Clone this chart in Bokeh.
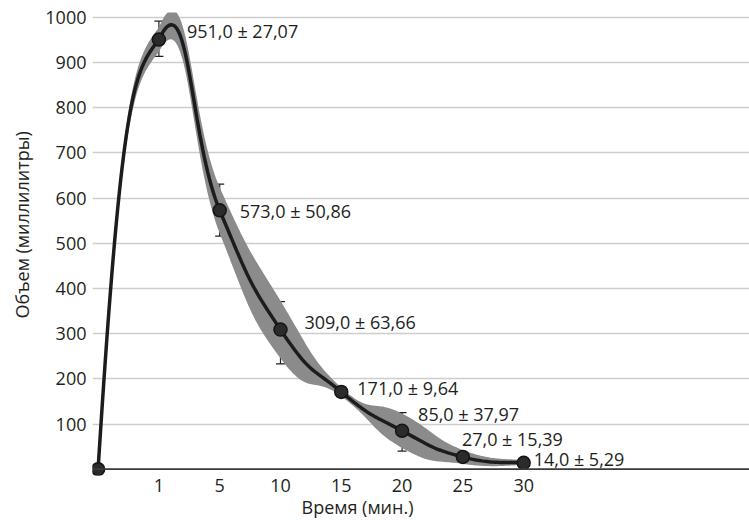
import numpy as np
from bokeh.plotting import figure
from bokeh.models import ColumnDataSource, FixedTicker, Span, Whisker, TeeHead, Range1d, Title
from bokeh.core.properties import value
from bokeh.embed import file_html
from bokeh.resources import INLINE

# ---- data ----
times = [0, 1, 5, 10, 15, 20, 25, 30]                      # minutes (tick labels)
volume = [0.0, 951.0, 573.0, 309.0, 171.0, 85.0, 27.0, 14.0]  # mean volume, ml
sd = [0.0, 27.07, 50.86, 63.66, 9.64, 37.97, 15.39, 5.29]     # +/- shown in labels
bar_low = [0, 914, 516, 233, 160, 40, 18, 9]                 # error bar ends (as drawn)
bar_high = [0, 992, 631, 371, 182, 125, 36, 19]
y_ticks = [100, 200, 300, 400, 500, 600, 700, 800, 900, 1000]
x_title = "Время (мин.)"
y_title = "Объем (миллилитры)"

idx = list(range(len(times)))   # categories are evenly spaced
INK = "#231f20"
FONT = "Open Sans"


def smooth(xs, ys, tension=0.25, first=(0.40, 0.90, 0.60, 0.925), n=40):
    """Smoothed line through the points (cubic Bezier segments)."""
    xs = np.asarray(xs, float)
    ys = np.asarray(ys, float)
    m = len(xs)
    ox, oy = [], []
    for i in range(m - 1):
        p0 = np.array([xs[i], ys[i]])
        p1 = np.array([xs[i + 1], ys[i + 1]])
        prev = np.array([xs[i - 1], ys[i - 1]]) if i > 0 else p0
        nxt = np.array([xs[i + 2], ys[i + 2]]) if i + 2 < m else p1
        if i == 0:
            d = p1 - p0
            c1 = p0 + d * np.array(first[:2])
            c2 = p0 + d * np.array(first[2:])
        else:
            c1 = p0 + (p1 - prev) * tension
            c2 = p1 - (nxt - p0) * tension
        t = np.linspace(0, 1, n)[:, None]
        if i > 0:
            t = t[1:]
        pts = ((1 - t) ** 3) * p0 + 3 * ((1 - t) ** 2) * t * c1 + 3 * (1 - t) * (t ** 2) * c2 + (t ** 3) * p1
        ox.extend(pts[:, 0])
        oy.extend(pts[:, 1])
    return np.array(ox), np.array(oy)


vol = np.array(volume)
err = np.array(sd)
cx, cy = smooth(idx, vol)
ux, uy = smooth(idx, vol + err)
lx, ly = smooth(idx, vol - err)

p = figure(width=749, height=520,
           x_range=Range1d(-0.092, 10.714), y_range=Range1d(-14, 1011),
           output_backend="svg", toolbar_location=None,
           min_border_left=92, min_border_right=0, min_border_top=12, min_border_bottom=43)
p.outline_line_color = None
p.background_fill_color = "white"
p.border_fill_color = "white"

# grid
p.xgrid.visible = False
p.ygrid.ticker = FixedTicker(ticks=y_ticks)
p.ygrid.grid_line_color = "#cdcdcd"
p.ygrid.grid_line_width = 1.5

# axes
p.xaxis.ticker = FixedTicker(ticks=idx[1:])
p.xaxis.major_label_overrides = {i: str(t) for i, t in zip(idx, times)}
p.yaxis.ticker = FixedTicker(ticks=y_ticks)
for ax in (p.xaxis, p.yaxis):
    ax.axis_line_color = None
    ax.major_tick_line_color = None
    ax.minor_tick_line_color = None
    ax.major_label_text_font = FONT
    ax.major_label_text_font_size = "18px"
    ax.major_label_text_color = INK
p.xaxis.major_label_standoff = -3
p.yaxis.major_label_standoff = 0

# axis titles
p.add_layout(Title(text=x_title, align="left", offset=209, vertical_align="top", standoff=0,
                   text_font=FONT, text_font_size="18px", text_font_style="normal",
                   text_color=INK), "below")
p.add_layout(Title(text=y_title, align="left", offset=157, vertical_align="middle", standoff=16,
                   text_font=FONT, text_font_size="18px", text_font_style="normal",
                   text_color=INK), "left")

# baseline (x axis line at zero)
p.add_layout(Span(location=0, dimension="width", line_color="#3a3a3a", line_width=1.8))

# band
bx = np.concatenate([ux, lx[::-1]])
by = np.concatenate([uy, ly[::-1]])
p.patch(bx, by, fill_color="#8b8b8b", line_color=None)

# smoothed line
p.line(cx, cy, line_color="#1c1c1c", line_width=3.5)

# error bars
eb = ColumnDataSource(dict(x=idx[1:], lo=bar_low[1:], hi=bar_high[1:]))
wh = Whisker(source=eb, base="x", lower="lo", upper="hi", line_color=INK, line_width=1.2,
             upper_head=TeeHead(size=9, line_color=INK, line_width=1.2),
             lower_head=TeeHead(size=9, line_color=INK, line_width=1.2))
p.add_layout(wh)

# markers
p.scatter(idx, volume, size=13, fill_color="#2b2b2b", line_color="#141414", line_width=1.5)

# value labels
def fmt(v, e):
    return f"{v:.1f}".replace(".", ",") + " \u00b1 " + f"{e:.2f}".replace(".", ",")

labels = [fmt(v, e) for v, e in zip(volume[1:], sd[1:])]
label_dx = [28, 20, 24, 16, 16, -1, 10]
label_dy = [-9, 1, -8, -4, -17, -18, -4]
ls = ColumnDataSource(dict(x=idx[1:], y=volume[1:], t=labels, dx=label_dx, dy=label_dy))
p.text(x="x", y="y", text="t", x_offset="dx", y_offset="dy", source=ls,
       text_font=value(FONT), text_font_size="18px", text_color=INK,
       text_align="left", text_baseline="middle")

open("out.html", "w").write(file_html(p, INLINE))
